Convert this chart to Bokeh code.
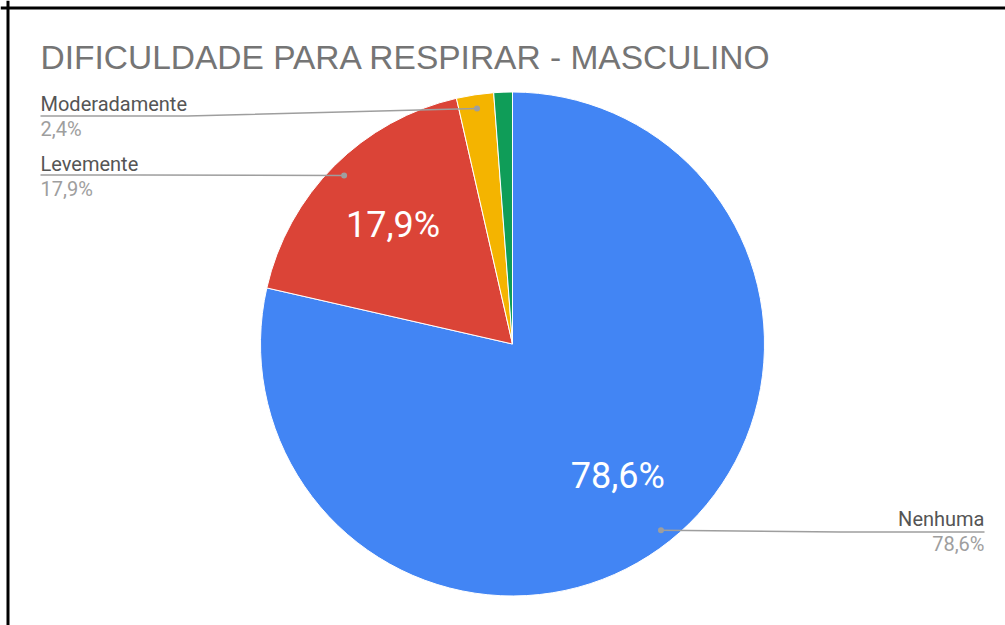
import math
from bokeh.plotting import figure
from bokeh.models import Range1d, Span, Label
from bokeh.core.properties import value
from bokeh.embed import file_html
from bokeh.resources import INLINE

# ---- data ----
categories = ["Nenhuma", "Levemente", "Moderadamente", "Severamente"]
counts = [66, 15, 2, 1]
colors = ["#4285F4", "#DB4437", "#F4B400", "#0F9D58"]
title_text = "DIFICULDADE PARA RESPIRAR - MASCULINO"
outer_labeled = ["Nenhuma", "Levemente", "Moderadamente"]
inner_labeled = ["Nenhuma", "Levemente"]

# ---- layout (canvas pixels; data units == pixels) ----
W, H = 1005, 625
def sx(x):
    return x
def sy(y):
    return H - y

CX, CY, R = sx(512), sy(343.5), 252

p = figure(width=W, height=H, output_backend="svg", toolbar_location=None,
           x_range=Range1d(0, W), y_range=Range1d(0, H), min_border=0,
           outline_line_color=None)
p.axis.visible = False
p.grid.visible = False
p.background_fill_color = "white"
p.border_fill_color = "white"

total = sum(counts)
fracs = [c / total for c in counts]
starts, ends, mids = [], [], []
cum = 0.0
for f in fracs:
    a0 = math.pi / 2 - 2 * math.pi * cum
    a1 = math.pi / 2 - 2 * math.pi * (cum + f)
    starts.append(a0)
    ends.append(a1)
    mids.append((a0 + a1) / 2)
    cum += f

def pct(f):
    return f"{f*100:.1f}".replace(".", ",") + "%"

p.wedge(x=[CX] * len(counts), y=[CY] * len(counts), radius=R,
        start_angle=starts, end_angle=ends, direction="clock",
        fill_color=colors, line_color="white", line_width=1)

# inner labels
ix, iy, it = [], [], []
for i, c in enumerate(categories):
    if c in inner_labeled:
        ix.append(CX + 0.67 * R * math.cos(mids[i]))
        iy.append(CY + 0.67 * R * math.sin(mids[i]))
        it.append(pct(fracs[i]))
p.text(x=ix, y=iy, text=it, text_color="white", text_font=value("Roboto"),
       text_font_size="36px", text_align="center", text_baseline="middle")

# outer labels with leader lines
outer_layout = {
    "Moderadamente": dict(tx=40, nb=103, ly=115.5, pb=128, align="left", bend=187),
    "Levemente": dict(tx=40, nb=163, ly=174.5, pb=188, align="left", bend=140),
    "Nenhuma": dict(tx=984, nb=518, ly=531.5, pb=543, align="right", bend=840),
}
for i, c in enumerate(categories):
    if c not in outer_labeled:
        continue
    L = outer_layout[c]
    dx = CX + 0.945 * R * math.cos(mids[i])
    dy = CY + 0.945 * R * math.sin(mids[i])
    p.line(x=[sx(L["tx"]), sx(L["bend"]), dx], y=[sy(L["ly"]), sy(L["ly"]), dy],
           line_color="#9e9e9e", line_width=1.5)
    p.scatter(x=[dx], y=[dy], size=6, fill_color="#9e9e9e", line_color=None)
    p.text(x=[sx(L["tx"])], y=[sy(L["nb"])], text=[c], text_color="#555555",
           text_font=value("Roboto"), text_font_size="20px",
           text_align=L["align"], text_baseline="alphabetic")
    p.text(x=[sx(L["tx"])], y=[sy(L["pb"])], text=[pct(fracs[i])], text_color="#9e9e9e",
           text_font=value("Roboto"), text_font_size="20px",
           text_align=L["align"], text_baseline="alphabetic")

# title
p.add_layout(Label(x=sx(40), y=sy(57), text=title_text, text_color="#757575",
                   text_font="Liberation Sans", text_font_size="33.5px",
                   text_baseline="alphabetic"))

# frame border (left and top)
p.add_layout(Span(location=7.5, dimension="height", line_color="black", line_width=3))
p.add_layout(Span(location=H - 7.5, dimension="width", line_color="black", line_width=3))

open("out.html", "w").write(file_html(p, INLINE))
